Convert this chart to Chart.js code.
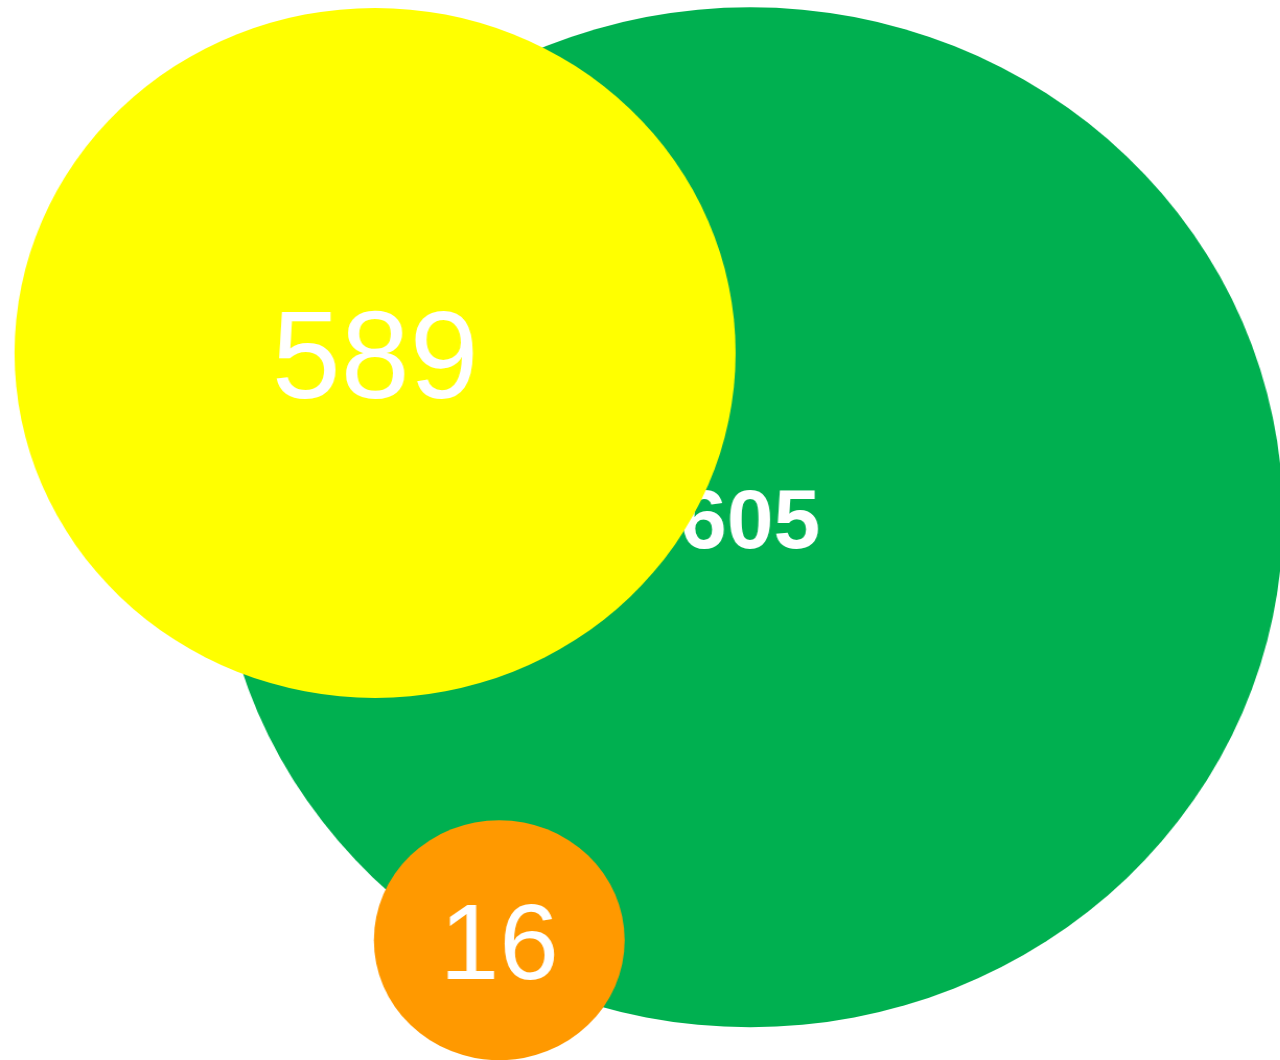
<!DOCTYPE html>
<html>
<head>
<meta charset="utf-8">
<title>Bubbles</title>
<script src="https://cdn.jsdelivr.net/npm/chart.js@4/dist/chart.umd.min.js"></script>
<style>
  html, body { margin: 0; padding: 0; background: #fff; overflow: hidden; }
  /* the original bubbles are slightly wider than tall */
  #wrap { width: 1225px; height: 1060px; transform: scaleX(1.045); transform-origin: 0 0; }
</style>
</head>
<body>
<div id="wrap"><canvas id="bubbleChart" width="1225" height="1060"></canvas></div>
<script>
// data (drawn bottom to top: green, yellow, orange)
const labels = ["605", "589", "16"];
const values = [605, 589, 16];
const xPos = [58.6, 29.3, 39.0];
const yPos = [51.2, 66.7, 11.3];
const bubbleSize = [510, 345, 120];

const colors = ["#00B050", "#FFFF00", "#FF9900"];
const labelFonts = [
  { size: 84, weight: "bold" },
  { size: 124, weight: "normal" },
  { size: 107, weight: "normal" }
];
const STRETCH = 1.045;

// draw each label right after its own bubble, so later bubbles cover it
const bubbleLabels = {
  id: "bubbleLabels",
  afterDatasetDraw(chart, args) {
    const ds = chart.data.datasets[args.index];
    const pt = args.meta.data[0];
    const f = labelFonts[ds.labelIdx];
    const ctx = chart.ctx;
    ctx.save();
    ctx.translate(pt.x, pt.y);
    ctx.scale(1 / STRETCH, 1);
    ctx.fillStyle = "#fff";
    ctx.font = `${f.weight} ${f.size}px "Liberation Sans", Arial, sans-serif`;
    ctx.textAlign = "center";
    ctx.textBaseline = "alphabetic";
    ctx.fillText(ds.label, 0, f.size * 0.36);
    ctx.restore();
  }
};

// chart.js draws the first dataset on top, so reverse the order
const datasets = labels.map((lab, i) => ({
  label: lab,
  labelIdx: i,
  value: values[i],
  data: [{ x: xPos[i], y: yPos[i], r: bubbleSize[i] }],
  backgroundColor: colors[i],
  hoverBackgroundColor: colors[i],
  borderWidth: 0,
  hoverBorderWidth: 0,
  clip: false
})).reverse();

new Chart(document.getElementById("bubbleChart"), {
  type: "bubble",
  data: { datasets },
  options: {
    responsive: false,
    animation: false,
    devicePixelRatio: 1,
    layout: { padding: 0, autoPadding: false },
    scales: {
      x: { type: "linear", min: 0, max: 100, display: false },
      y: { type: "linear", min: 0, max: 100, display: false }
    },
    plugins: {
      legend: { display: false },
      tooltip: { enabled: false }
    }
  },
  plugins: [bubbleLabels]
});
</script>
</body>
</html>
